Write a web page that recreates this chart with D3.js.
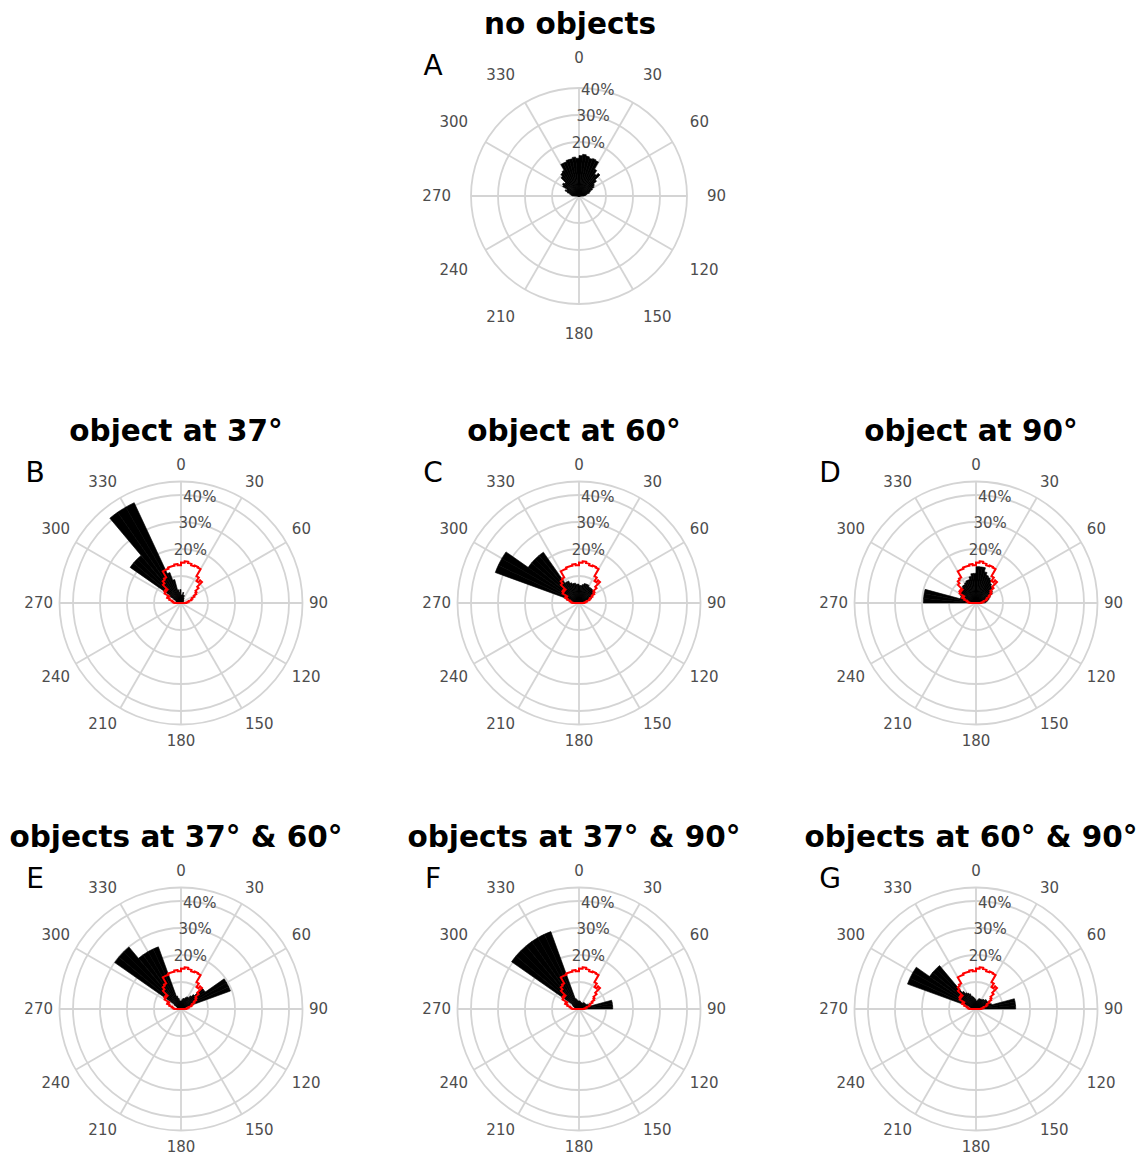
<!DOCTYPE html>
<html><head><meta charset="utf-8">
<script src="https://cdn.jsdelivr.net/npm/d3@7"></script>
<style>body{margin:0;background:#fff}</style></head>
<body>
<svg id="chart" width="1139" height="1156"></svg>
<script>
// 5-degree bin start angles (degrees, 0 = north, clockwise)
const binStart = [-90,-85,-80,-75,-70,-65,-60,-55,-50,-45,-40,-35,-30,-25,-20,-15,-10,-5,
                  0,5,10,15,20,25,30,35,40,45,50,55,60,65,70,75,80,85];
// percentages per bin
const noObjects = [2.5,3,3.5,4.5,5.5,5,7,7.5,7,9.5,10.5,11,13.5,13.5,14,14,14.5,14,
                   15,15.5,15,14.5,14.8,14.5,11.5,10,11,8.5,7,6.5,5.5,4.5,4,3,2.5,2];
const obj37 = [1,1,1.5,2,2,3,5,23,23,23,41,41,41,12,9,5,4,5,
               3,3,4,3,3,2,2,1.5,1.5,1,1,1,1,1,0.5,0.5,0.5,0.5];
const obj60 = [1,2,3,5,33,33,33,23,23,23,23,9,9,8,7.5,7.5,7,7,
               6.5,6.5,7,7.5,7.5,7.5,7,7,7,7,7,6,5.5,5,4,3,2,1];
const obj90 = [19.5,19.5,19.5,6,6,6.5,7,7,7.5,7.5,8,8,8.5,9,9,10,11,11,
               13.5,13.5,13.5,12,11,10.5,10,9,8.5,8,7.5,7,6,5.5,5,4.5,4,3.5];
const obj37_60 = [0.5,0.5,1,1,1.5,2,3,30,30,30,24.5,24.5,24.5,24.5,5,4,3,3,
                  3,3.5,4,4,4.5,5,5,6,7,11,11,19.5,19.5,19.5,2,1.5,1,0.5];
const obj37_90 = [1,1,1.5,1.5,2,2.5,3,30.5,30.5,30.5,30.5,30.5,30.5,30.5,4,3.5,3,3,
                  3,3,2.5,2.5,2.5,2.5,2.5,3,3,3,3,3,3.5,4,4,12.5,12.5,12.5];
const obj60_90 = [1,1.5,2,2.5,27,27,27,21,21,21,8,7,6.5,6,5,4.5,4,3.5,
                  3,3,3.5,4,4,4,4,4.5,4.5,5,5,5,5.5,5.5,6,14.7,14.7,14.7];

const angleTicks = [0,30,60,90,120,150,180,210,240,270,300,330];
const angleTickLabels = ["0","30","60","90","120","150","180","210","240","270","300","330"];
const gridPct = [10,20,30,40];
const radialTicks = [20,30,40];
const radialTickLabels = ["20%","30%","40%"];

const panels = [
  {letter:"A", title:"no objects",            values:noObjects, max:40, cx:579, cy:196, ref:false, tdx:-9},
  {letter:"B", title:"object at 37°",          values:obj37,     max:45, cx:181, cy:603, ref:true, tdx:-5},
  {letter:"C", title:"object at 60°",          values:obj60,     max:45, cx:579, cy:603, ref:true, tdx:-5},
  {letter:"D", title:"object at 90°",          values:obj90,     max:45, cx:976, cy:603, ref:true, tdx:-5},
  {letter:"E", title:"objects at 37° & 60°",   values:obj37_60,  max:45, cx:181, cy:1009, ref:true, tdx:-5},
  {letter:"F", title:"objects at 37° & 90°",   values:obj37_90,  max:45, cx:579, cy:1009, ref:true, tdx:-5},
  {letter:"G", title:"objects at 60° & 90°",   values:obj60_90,  max:45, cx:976, cy:1009, ref:true, tdx:-5}
];

const svg = d3.select("#chart");
svg.append("rect").attr("width",1139).attr("height",1156).attr("fill","#fff");
const font = "DejaVu Sans, Verdana, sans-serif";
const ang = d3.scaleLinear().domain([0,360]).range([0, 2*Math.PI]);
const binW = 5;
const gridColor = "#d4d4d4";
const labColor = "#4d4d4d";
const sgn = v => Math.abs(v) < 1e-6 ? 0 : Math.sign(v);

panels.forEach(p => {
  const r = d3.scaleLinear().domain([0, p.max]).range([0, 2.7*p.max]);
  const g = svg.append("g").attr("transform", `translate(${p.cx},${p.cy})`);
  const R = r(p.max);
  // grid circles
  const circles = gridPct.filter(v => v <= p.max);
  if (p.max > 40) circles.push(p.max);
  g.selectAll("circle.grid").data(circles).enter().append("circle")
    .attr("r", d => r(d)).attr("fill","none").attr("stroke",gridColor).attr("stroke-width",1.8);
  // spokes
  g.selectAll("line.spoke").data(angleTicks).enter().append("line")
    .attr("x1",0).attr("y1",0)
    .attr("x2", d => R*Math.sin(ang(d))).attr("y2", d => -R*Math.cos(ang(d)))
    .attr("stroke",gridColor).attr("stroke-width",1.8);
  // bars
  const arc = d3.arc().innerRadius(0);
  g.selectAll("path.bar").data(p.values).enter().append("path")
    .attr("d", (d,i) => arc({outerRadius:r(d), startAngle:ang(binStart[i]), endAngle:ang(binStart[i]+binW)}))
    .attr("fill","#000").attr("stroke","#000").attr("stroke-width",0.6);
  // reference outline (no-object distribution)
  if (p.ref) {
    const path = d3.path();
    path.moveTo(0,0);
    noObjects.forEach((v,i) => {
      const a0 = ang(binStart[i]) - Math.PI/2, a1 = ang(binStart[i]+binW) - Math.PI/2;
      const rr = r(v);
      path.lineTo(rr*Math.cos(a0), rr*Math.sin(a0));
      path.arc(0,0,rr,a0,a1,false);
    });
    path.closePath();
    g.append("path").attr("d", path.toString()).attr("fill","none")
      .attr("stroke","#ff0000").attr("stroke-width",2).attr("stroke-linejoin","miter");
  }
  // angle labels
  angleTicks.forEach((t,i) => {
    const txt = g.append("text").text(angleTickLabels[i])
      .attr("font-family",font).attr("font-size",15).attr("fill",labColor)
      .attr("text-anchor","middle").attr("dominant-baseline","central");
    const w = txt.node().getComputedTextLength();
    const a = ang(t), s = Math.sin(a), c = Math.cos(a);
    txt.attr("x", 128*s + sgn(s)*w/2).attr("y", -128*c - sgn(c)*10);
  });
  // radial labels
  const ra = ang(10);
  radialTicks.forEach((t,i) => {
    g.append("text").text(radialTickLabels[i])
      .attr("x", r(t)*Math.sin(ra)).attr("y", -r(t)*Math.cos(ra))
      .attr("font-family",font).attr("font-size",15).attr("fill",labColor)
      .attr("text-anchor","middle").attr("dominant-baseline","central");
  });
  // title
  g.append("text").text(p.title).attr("x",p.tdx).attr("y",-172)
    .attr("font-family",font).attr("font-size",29.5).attr("font-weight","bold").attr("fill","#000")
    .attr("text-anchor","middle").attr("dominant-baseline","central");
  // letter
  g.append("text").text(p.letter).attr("x",-146).attr("y",-131)
    .attr("font-family",font).attr("font-size",28).attr("fill","#000")
    .attr("text-anchor","middle").attr("dominant-baseline","central");
});
</script>
</body></html>
